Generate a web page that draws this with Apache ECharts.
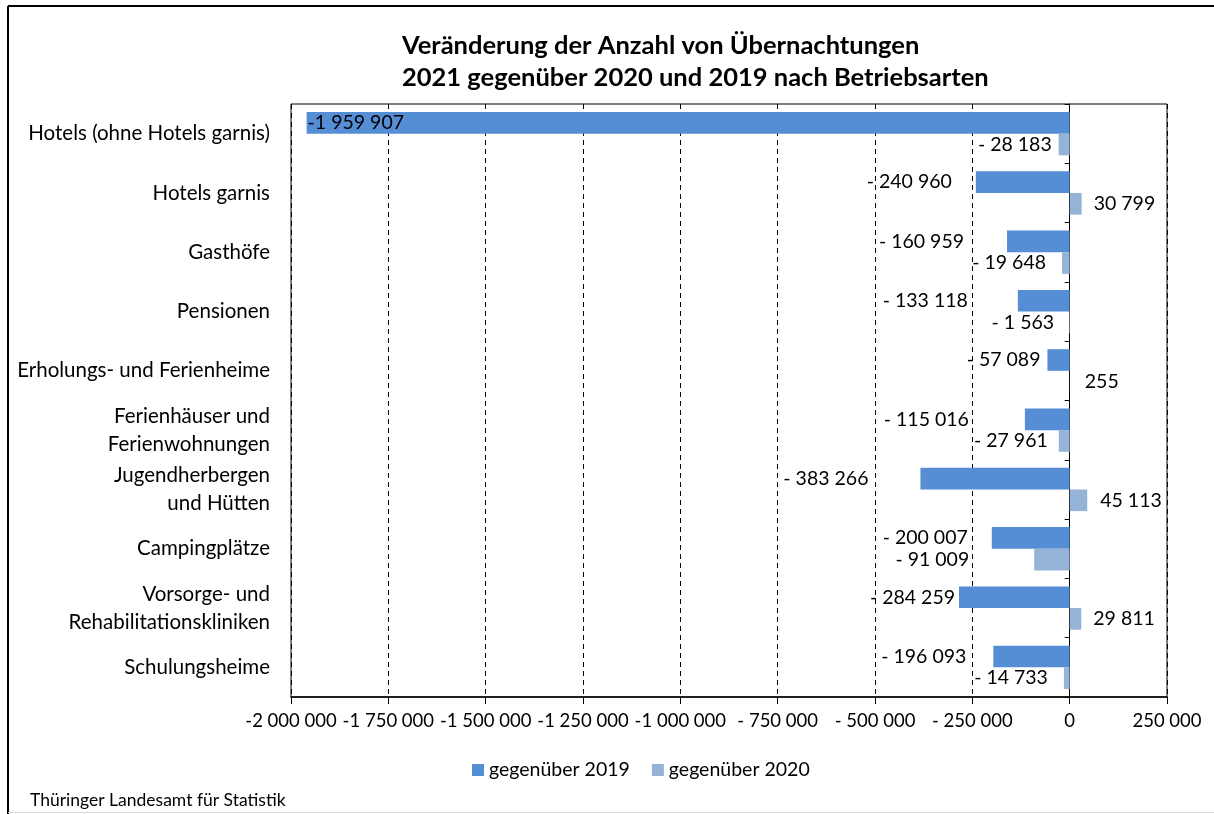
<!DOCTYPE html>
<html>
<head>
<meta charset="utf-8">
<script src="https://cdn.jsdelivr.net/npm/echarts@6/dist/echarts.min.js"></script>
<style>html,body{margin:0;padding:0;background:#fff}#c{width:1214px;height:814px}</style>
</head>
<body>
<div id="c"></div>
<script>
const titleLines = ['Veränderung der Anzahl von Übernachtungen', '2021 gegenüber 2020 und 2019 nach Betriebsarten'];
const categories = ['Hotels (ohne Hotels garnis)', 'Hotels garnis', 'Gasthöfe', 'Pensionen', 'Erholungs- und Ferienheime',
  'Ferienhäuser und\nFerienwohnungen', 'Jugendherbergen\nund Hütten', 'Campingplätze', 'Vorsorge- und\nRehabilitationskliniken', 'Schulungsheime'];
const seriesNames = ['gegenüber 2019', 'gegenüber 2020'];
const vs2019 = [-1959907, -240960, -160959, -133118, -57089, -115016, -383266, -200007, -284259, -196093];
const vs2020 = [-28183, 30799, -19648, -1563, 255, -27961, 45113, -91009, 29811, -14733];
const xMin = -2000000, xMax = 250000, xStep = 250000;
const source = 'Thüringer Landesamt für Statistik';
// label gaps (px) between bar end and its value label
const labelGap2019 = [1, 24, 43, 50, 7, 56, 52, 24, 4, 27];
const labelGap2020 = [7, 12, 16, 15, 15, 11, 13, 65, 12, 16];

const FONT = 'Lato';
function group(n) { return String(Math.round(n)).replace(/\B(?=(\d{3})+(?!\d))/g, ' '); }
function fmt(v) {
  if (v < 0) { const a = Math.abs(v); return '-' + (a >= 1e6 ? '' : ' ') + group(a); }
  return group(v);
}
function items(vals, gaps, first) {
  return vals.map((v, i) => {
    let pos = v < 0 ? 'left' : 'right';
    if (first && i === 0) pos = 'insideLeft';
    return { value: v, label: { position: pos, distance: gaps[i] } };
  });
}
const chart = echarts.init(document.getElementById('c'), null, { renderer: 'canvas' });
chart.setOption({
  animation: false,
  backgroundColor: '#fff',
  textStyle: { fontFamily: FONT },
  title: {
    text: titleLines.join('\n'), left: 397, top: 25,
    textStyle: { fontFamily: FONT, fontSize: 25.5, fontWeight: 'bold', color: '#000', lineHeight: 32 }
  },
  legend: {
    data: seriesNames, left: 467, top: 755, itemWidth: 12, itemHeight: 12, itemGap: 22,
    icon: 'rect', textStyle: { fontFamily: FONT, fontSize: 19.5, color: '#000' }
  },
  grid: { left: 291, right: 47, top: 104, bottom: 117, show: true, borderColor: '#000', borderWidth: 1, containLabel: false },
  xAxis: {
    type: 'value', min: xMin, max: xMax, interval: xStep,
    axisLine: { show: true, lineStyle: { color: '#000', width: 1.5 } },
    axisTick: { show: true, length: 7, lineStyle: { color: '#000' } },
    splitLine: { show: true, lineStyle: { color: '#000', type: [5, 4], width: 1 } },
    axisLabel: { formatter: fmt, fontSize: 18.5, color: '#000', margin: 15, fontFamily: FONT }
  },
  yAxis: [
    {
      type: 'category', data: categories, inverse: true,
      axisLine: { show: false, onZero: false }, axisTick: { show: false },
      axisLabel: { fontSize: 20.5, color: '#000', margin: 21, lineHeight: 28, fontFamily: FONT }
    },
    {
      type: 'category', data: categories, inverse: true, position: 'left',
      axisLine: { show: true, onZero: true, lineStyle: { color: '#000', width: 1 } },
      axisTick: { show: true, length: 5, lineStyle: { color: '#000' } },
      axisLabel: { show: false }
    }
  ],
  series: [
    {
      name: seriesNames[0], type: 'bar', data: items(vs2019, labelGap2019, true),
      barGap: '0%', barCategoryGap: '27%', itemStyle: { color: '#558ED5' },
      label: { show: true, formatter: p => fmt(p.value), fontSize: 19.5, color: '#000', fontFamily: FONT }
    },
    {
      name: seriesNames[1], type: 'bar', data: items(vs2020, labelGap2020, false),
      barGap: '0%', barCategoryGap: '27%', itemStyle: { color: '#95B3D7' },
      label: { show: true, formatter: p => fmt(p.value), fontSize: 19.5, color: '#000', fontFamily: FONT }
    }
  ],
  graphic: [
    { type: 'line', shape: { x1: 8, y1: 6, x2: 1214, y2: 6 }, style: { stroke: '#000', lineWidth: 2 } },
    { type: 'line', shape: { x1: 8, y1: 6, x2: 8, y2: 814 }, style: { stroke: '#000', lineWidth: 2 } },
    { type: 'line', shape: { x1: 8, y1: 812.5, x2: 1214, y2: 812.5 }, style: { stroke: '#d9d9d9', lineWidth: 1 } },
    { type: 'text', left: 30, top: 791, style: { text: source, fontFamily: FONT, fontSize: 17.5, fill: '#000' } }
  ]
});
</script>
</body>
</html>
